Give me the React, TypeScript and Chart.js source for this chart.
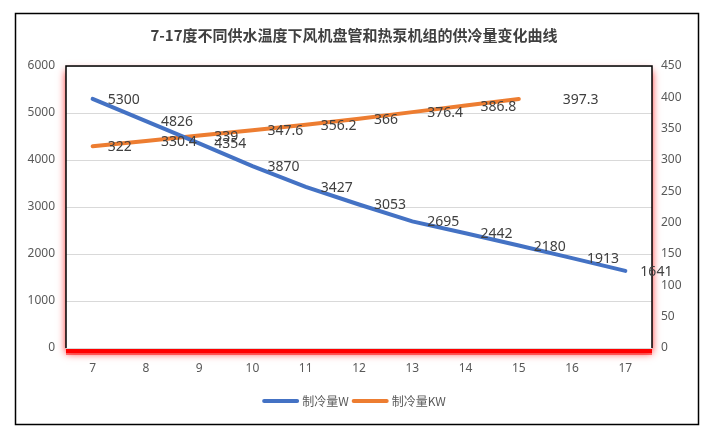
import React, { useEffect, useRef } from "react";
import { Chart, registerables } from "chart.js";

Chart.register(...registerables);

const chartTitle = "7-17度不同供水温度下风机盘管和热泵机组的供冷量变化曲线";
const categories = ["7", "8", "9", "10", "11", "12", "13", "14", "15", "16", "17"];
const coolingW = [5300, 4826, 4354, 3870, 3427, 3053, 2695, 2442, 2180, 1913, 1641];
const coolingKW = [322, 330.4, 339, 347.6, 356.2, 366, 376.4, 386.8, 397.3];
const seriesNames = ["制冷量W", "制冷量KW"];
const leftAxis = { min: 0, max: 6000, step: 1000 };
const rightAxis = { min: 0, max: 450, step: 50 };

const BLUE = "#4472C4";
const ORANGE = "#ED7D31";
const TICK = "#595959";
const LABEL = "#404040";

// extra horizontal shift for individual data labels (datasetIndex-pointIndex)
const labelShift: Record<string, number> = { "1-8": 44 };

const decor = {
  id: "decor",
  beforeDraw(chart: any) {
    const { ctx, chartArea: a, width, height } = chart;
    ctx.save();
    ctx.fillStyle = "#ffffff";
    ctx.fillRect(0, 0, width, height);
    ctx.strokeStyle = "#000000";
    ctx.lineWidth = 1.5;
    ctx.strokeRect(15.5, 13.5, 683, 411);
    ctx.shadowColor = "rgba(255,0,0,0.9)";
    ctx.shadowBlur = 8;
    ctx.shadowOffsetY = 5;
    ctx.fillStyle = "#ffffff";
    ctx.fillRect(a.left, a.top, a.right - a.left, a.bottom - a.top);
    ctx.shadowColor = "transparent";
    ctx.shadowBlur = 0;
    ctx.shadowOffsetY = 0;
    ctx.fillStyle = "#ff0000";
    ctx.fillRect(a.left, a.bottom, a.right - a.left, 5);
    ctx.fillStyle = "rgba(255,0,0,0.5)";
    ctx.fillRect(a.left, a.bottom + 5, a.right - a.left, 2);
    ctx.restore();
  },
  afterDatasetsDraw(chart: any) {
    const { ctx, chartArea: a } = chart;
    ctx.save();
    ctx.strokeStyle = "#000000";
    ctx.lineWidth = 1.5;
    ctx.beginPath();
    ctx.moveTo(a.left, a.bottom);
    ctx.lineTo(a.left, a.top);
    ctx.lineTo(a.right, a.top);
    ctx.lineTo(a.right, a.bottom);
    ctx.stroke();

    ctx.font = "14px 'Noto Sans'";
    ctx.fillStyle = LABEL;
    ctx.textAlign = "left";
    ctx.textBaseline = "middle";
    chart.data.datasets.forEach((ds: any, di: number) => {
      const meta = chart.getDatasetMeta(di);
      meta.data.forEach((pt: any, pi: number) => {
        const v = ds.data[pi];
        if (v === null || v === undefined) return;
        const shift = labelShift[`${di}-${pi}`] ?? 15;
        ctx.fillText(String(v), pt.x + shift, pt.y + 1);
      });
    });
    ctx.restore();
  },
  afterDraw(chart: any) {
    const { ctx } = chart;
    ctx.save();
    ctx.font = "bold 15px 'Noto Sans CJK SC'";
    ctx.fillStyle = LABEL;
    ctx.textAlign = "center";
    ctx.textBaseline = "middle";
    ctx.fillText(chartTitle, 354, 35);

    // legend
    ctx.font = "12px 'Noto Sans CJK SC'";
    const lineW = 37;
    const gapA = 3;
    const gapB = 3;
    const items = chart.data.datasets.map((ds: any) => ({
      label: ds.label,
      color: ds.borderColor,
      w: ctx.measureText(ds.label).width,
    }));
    let total = 0;
    items.forEach((it: any, i: number) => {
      total += lineW + gapA + it.w + (i < items.length - 1 ? gapB : 0);
    });
    let x = 354 - total / 2;
    const y = 401;
    ctx.textAlign = "left";
    items.forEach((it: any) => {
      ctx.strokeStyle = it.color;
      ctx.lineWidth = 4;
      ctx.lineCap = "round";
      ctx.beginPath();
      ctx.moveTo(x + 2, y);
      ctx.lineTo(x + lineW - 2, y);
      ctx.stroke();
      x += lineW + gapA;
      ctx.fillStyle = TICK;
      ctx.fillText(it.label, x, y);
      x += it.w + gapB;
    });
    ctx.restore();
  },
};

const plain = (v: any) => String(v);

export default function App() {
  const ref = useRef<HTMLCanvasElement>(null);

  useEffect(() => {
    if (!ref.current) return;
    Chart.defaults.font.family = "'Noto Sans'";
    const chart = new Chart(ref.current, {
      type: "line",
      data: {
        labels: categories,
        datasets: [
          {
            label: seriesNames[0],
            data: coolingW,
            borderColor: BLUE,
            backgroundColor: BLUE,
            borderWidth: 4,
            pointRadius: 0,
            tension: 0,
            borderCapStyle: "round",
            yAxisID: "y",
          },
          {
            label: seriesNames[1],
            data: coolingKW,
            borderColor: ORANGE,
            backgroundColor: ORANGE,
            borderWidth: 4,
            pointRadius: 0,
            tension: 0,
            borderCapStyle: "round",
            yAxisID: "y1",
          },
        ],
      },
      options: {
        responsive: false,
        animation: false,
        devicePixelRatio: 1,
        layout: { padding: { left: 15, right: 12, top: 66, bottom: 46 } },
        plugins: {
          legend: { display: false },
          title: { display: false },
          tooltip: { enabled: false },
        },
        scales: {
          x: {
            type: "category",
            offset: true,
            grid: { display: false },
            border: { display: false },
            ticks: { color: TICK, font: { size: 12 }, padding: 5, maxRotation: 0 },
            afterFit: (s: any) => {
              s.height = 40;
            },
          },
          y: {
            position: "left",
            min: leftAxis.min,
            max: leftAxis.max,
            ticks: { stepSize: leftAxis.step, color: TICK, font: { size: 12 }, padding: 11, callback: plain },
            grid: { color: "#d9d9d9", drawTicks: false, lineWidth: 1 },
            border: { display: false },
            afterFit: (s: any) => {
              s.width = 51;
            },
          },
          y1: {
            position: "right",
            min: rightAxis.min,
            max: rightAxis.max,
            ticks: { stepSize: rightAxis.step, color: TICK, font: { size: 12 }, padding: 9, callback: plain },
            grid: { display: false, drawTicks: false },
            border: { display: false },
            afterFit: (s: any) => {
              s.width = 46;
            },
          },
        },
      },
      plugins: [decor],
    } as any);
    return () => chart.destroy();
  }, []);

  return (
    <div style={{ position: "absolute", left: 0, top: 0, width: 710, height: 434, background: "#fff" }}>
      <canvas ref={ref} width={710} height={434} style={{ display: "block" }} />
    </div>
  );
}
